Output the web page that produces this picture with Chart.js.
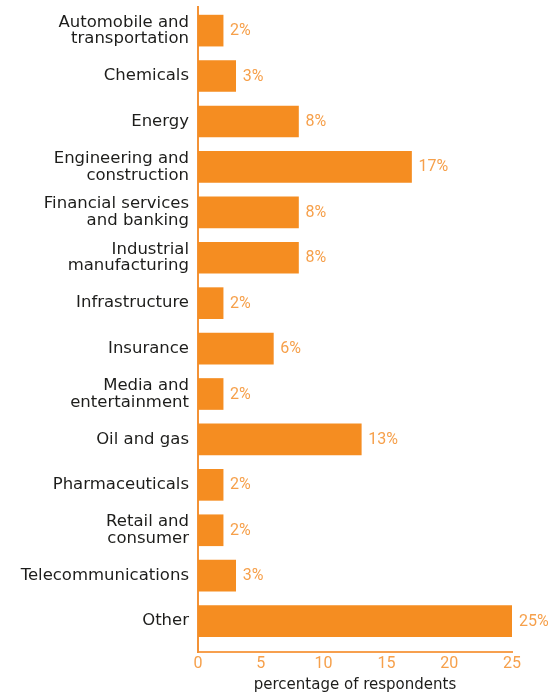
<!DOCTYPE html>
<html>
<head>
<meta charset="utf-8">
<title>Respondents by industry</title>
<script src="https://cdn.jsdelivr.net/npm/chart.js@4.4.1/dist/chart.umd.min.js"></script>
<style>
  html, body { margin: 0; padding: 0; background: #fff; overflow: hidden; }
  #wrap { width: 552px; height: 695px; position: relative; }
</style>
</head>
<body>
<div id="wrap"><canvas id="sectors" width="552" height="695"></canvas></div>
<script>
// industries (arrays = label wraps on two lines)
const sectors = [
  ['Automobile and', 'transportation'],
  'Chemicals',
  'Energy',
  ['Engineering and', 'construction'],
  ['Financial services', 'and banking'],
  ['Industrial', 'manufacturing'],
  'Infrastructure',
  'Insurance',
  ['Media and', 'entertainment'],
  'Oil and gas',
  'Pharmaceuticals',
  ['Retail and', 'consumer'],
  'Telecommunications',
  'Other'
];
// percentage of respondents per industry
const shares = [2, 3, 8, 17, 8, 8, 2, 6, 2, 13, 2, 2, 3, 25];
const xTicks = [0, 5, 10, 15, 20, 25];

const barOrange = '#f58d21';
const lightOrange = '#f6a04b';
const ink = '#1d1d1b';

// "n%" printed just past the end of each bar
const valueLabels = {
  id: 'valueLabels',
  afterDatasetsDraw(chart) {
    const ctx = chart.ctx;
    const meta = chart.getDatasetMeta(0);
    ctx.save();
    ctx.font = '16px Roboto';
    ctx.fillStyle = lightOrange;
    ctx.textAlign = 'left';
    ctx.textBaseline = 'middle';
    meta.data.forEach((bar, i) => {
      ctx.fillText(shares[i] + '%', bar.x + 7, bar.y + 0.5);
    });
    ctx.restore();
  }
};

new Chart(document.getElementById('sectors'), {
  type: 'bar',
  data: {
    datasets: [{
      data: shares.map((v, i) => ({ x: v, y: i })),
      backgroundColor: barOrange,
      borderWidth: 0,
      barThickness: 31
    }]
  },
  options: {
    indexAxis: 'y',
    responsive: false,
    animation: false,
    devicePixelRatio: 1,
    layout: { padding: { top: 7, right: 40, bottom: 0, left: 0 } },
    plugins: {
      legend: { display: false },
      tooltip: { enabled: false }
    },
    scales: {
      x: {
        type: 'linear',
        position: 'bottom',
        min: 0,
        max: 25,
        grid: { display: false, drawTicks: false },
        border: { color: '#f7a04f', width: 2 },
        ticks: {
          color: lightOrange,
          font: { family: 'Roboto', size: 16 },
          padding: 2
        },
        afterBuildTicks: scale => {
          scale.ticks = xTicks.map(v => ({ value: v }));
        },
        afterFit: scale => {
          scale.height = 43;
        },
        title: {
          display: true,
          text: 'percentage of respondents',
          color: ink,
          font: { family: 'DejaVu Sans', size: 15 },
          padding: { top: 0, bottom: 1 }
        }
      },
      y: {
        type: 'linear',
        bounds: 'data',
        offset: false,
        reverse: true,
        min: -0.52,
        max: 13.68,
        grid: { display: false, drawTicks: false, offset: false },
        border: { color: '#f39236', width: 2 },
        ticks: {
          color: ink,
          font: { family: 'DejaVu Sans', size: 16.5, lineHeight: 1.01 },
          padding: 9,
          callback: v => sectors[v]
        },
        afterBuildTicks: scale => {
          scale.ticks = sectors.map((s, i) => ({ value: i }));
        },
        afterFit: scale => {
          scale.width = 198;
          scale.paddingTop = 0;
          scale.paddingBottom = 0;
        }
      }
    }
  },
  plugins: [valueLabels]
});
</script>
</body>
</html>
